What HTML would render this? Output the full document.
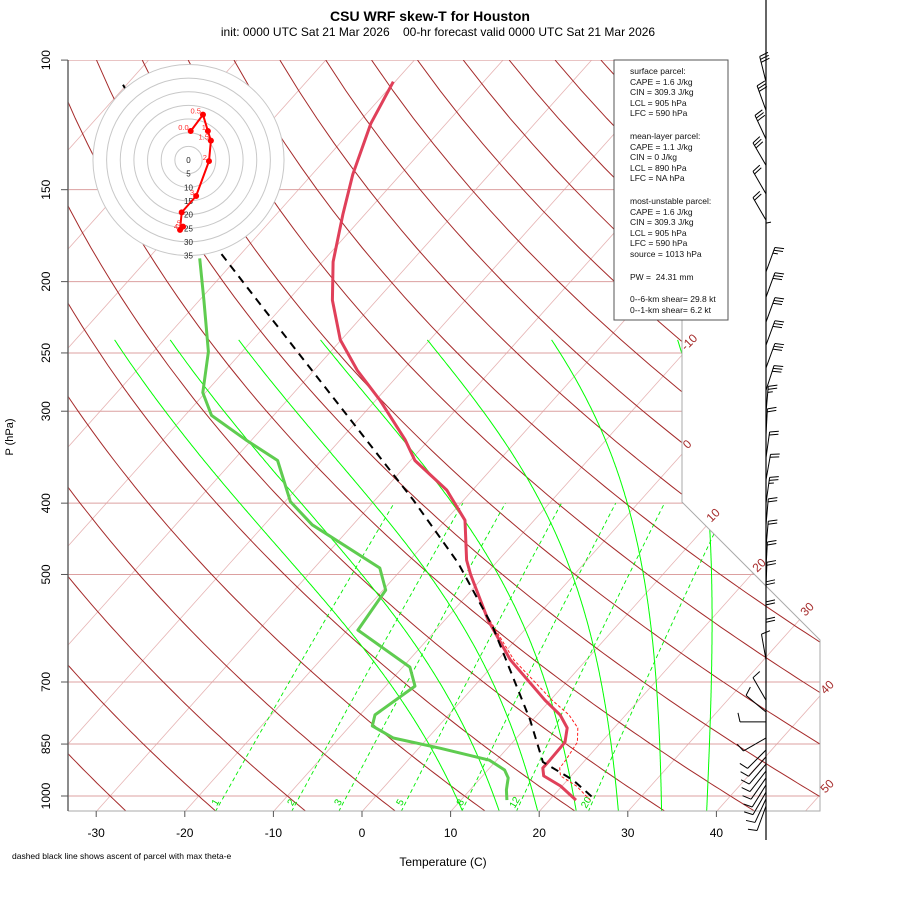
<!DOCTYPE html>
<html><head><meta charset="utf-8"><title>CSU WRF skew-T for Houston</title>
<style>
html,body{margin:0;padding:0;background:#fff;}
svg{display:block;font-family:"Liberation Sans",sans-serif;}
</style></head>
<body>
<svg id="chart" width="900" height="900" viewBox="0 0 900 900" xmlns="http://www.w3.org/2000/svg">
<defs><clipPath id="plotclip"><polygon points="68,60 682,60 682,502 820,640 820,811 68,811"/></clipPath></defs>
<text x="430" y="21" text-anchor="middle" font-size="14" font-weight="bold">CSU WRF skew-T for Houston</text>
<text x="438" y="36" text-anchor="middle" font-size="12" xml:space="preserve">init: 0000 UTC Sat 21 Mar 2026    00-hr forecast valid 0000 UTC Sat 21 Mar 2026</text>
<text transform="translate(13,437) rotate(-90)" text-anchor="middle" font-size="11">P (hPa)</text>
<text x="443" y="866" text-anchor="middle" font-size="12">Temperature (C)</text>
<text x="12" y="859" font-size="8.5">dashed black line shows ascent of parcel with max theta-e</text>
<g id="grid" clip-path="url(#plotclip)"></g>
<g id="frame"></g>
<g id="profiles" clip-path="url(#plotclip)"></g>
<g id="hodo"></g>
<g id="winds"></g>
<g>
<rect x="614" y="60" width="114" height="260" fill="#fff" stroke="#555" stroke-width="1"/>
<g font-size="8.5" fill="#111">
<text x="630" y="74">surface parcel:</text>
<text x="630" y="85">CAPE = 1.6 J/kg</text>
<text x="630" y="95">CIN = 309.3 J/kg</text>
<text x="630" y="106">LCL = 905 hPa</text>
<text x="630" y="116">LFC = 590 hPa</text>
<text x="630" y="139">mean-layer parcel:</text>
<text x="630" y="150">CAPE = 1.1 J/kg</text>
<text x="630" y="160">CIN = 0 J/kg</text>
<text x="630" y="171">LCL = 890 hPa</text>
<text x="630" y="181">LFC = NA hPa</text>
<text x="630" y="204">most-unstable parcel:</text>
<text x="630" y="215">CAPE = 1.6 J/kg</text>
<text x="630" y="225">CIN = 309.3 J/kg</text>
<text x="630" y="236">LCL = 905 hPa</text>
<text x="630" y="246">LFC = 590 hPa</text>
<text x="630" y="257">source = 1013 hPa</text>
<text x="630" y="280" xml:space="preserve">PW =  24.31 mm</text>
<text x="630" y="302">0--6-km shear= 29.8 kt</text>
<text x="630" y="313">0--1-km shear= 6.2 kt</text>
</g></g>
</svg>
<script>
// ---- data ----
const pTicks = [100,150,200,250,300,400,500,700,850,1000];
const tTicks = [-30,-20,-10,0,10,20,30,40];
const isothermLabels = ['-10','0','10','20','30','40','50'];
const mixRatios = [1,2,3,5,8,12,20];
const moistStartT = [9,13.3,17.8,22.3,27.2,32.2,37.4];
const tempP = [107,122,143,162,188,212,240,264,290,328,350,384,422,478,500,577,653,741,776,808,845,894,916,939,969,1013];
const tempT = [-70.2,-68.5,-65.4,-62.5,-58.8,-55.0,-50.1,-45.1,-39.5,-32.7,-29.5,-22.9,-17.8,-13.6,-11.7,-5.1,1.4,9.4,12.6,14.7,15.9,16.0,16.0,16.9,19.8,23.0];
const dewP = [186,212,249,283,304,328,350,398,428,490,525,595,668,709,776,803,834,861,894,922,945,981,1013];
const dewT = [-74.2,-69.5,-63.8,-60.3,-57.0,-50.7,-45.0,-39.4,-34.6,-22.6,-19.7,-18.8,-9.2,-6.7,-8.3,-7.5,-3.9,2.4,9.2,11.9,13.1,14.1,15.2];
const parcelP = [108,181,212,396,482,589,711,788,899,951,1003];
const parcelT = [-100.4,-73.0,-63.5,-25.7,-14.3,-3.9,4.9,9.7,15.4,20.6,24.5];
const virtP = [577,653,741,776,808,845,894,916,939,969,1013];
const virtT = [-4.9,1.8,10.2,13.6,15.9,17.3,17.8,17.9,18.8,21.6,24.6];
const windP = [107,117,128,139,152,165,179,194,210,227,244,262,281,301,323,347,372,400,428,459,490,522,555,591,624,653,741,769,793,834,866,885,905,925,945,966,988,1009,1032];
const windDir = [346,340,335,330,330,330,0,20,20,20,20,20,18,5,3,8,10,8,5,5,3,2,0,0,0,350,330,310,270,240,225,222,220,218,215,212,210,205,200];
const windSpd = [30,30,30,30,20,20,5,25,30,30,30,30,30,25,20,20,20,25,20,20,20,20,20,20,20,10,10,10,10,10,10,10,10,10,10,10,10,10,10];
const hodoU = [0.8,5.3,7.1,8.2,7.5,2.8,-2.5,-3.1,-2.0];
const hodoV = [10.6,16.6,10.6,7.1,-0.4,-13.2,-19.2,-25.6,-24.4];
const hodoLabels = ['0.0','0.5','1','1.5','2','3','','4','5'];
const hodoRings = [5,10,15,20,25,30,35];

// ---- axes ----
function yP(p){ return 796 - 319.6*Math.log(1000/p); }
function xT(T,p){ return 362 + 8.86*T + 0.895*(811.6 - yP(p)); }
const NS='http://www.w3.org/2000/svg';
function mk(tag, attrs, parent){ const e=document.createElementNS(NS,tag); for(const k in attrs) e.setAttribute(k,attrs[k]); parent.appendChild(e); return e; }
function pathFrom(ps, ts){ return ps.map((p,i)=>(i?'L':'M')+xT(ts[i],p).toFixed(1)+','+yP(p).toFixed(1)).join(''); }
const grid=document.getElementById('grid'), frame=document.getElementById('frame'), prof=document.getElementById('profiles');

for(let T=-160;T<=60;T+=10){
  const l=mk('line',{x1:xT(T,1050),y1:yP(1050),x2:xT(T,100),y2:yP(100),stroke:'#e6b4b4','stroke-width':0.8},grid);
  
  
}
pTicks.forEach(p=>{
  const l=mk('line',{x1:68,y1:yP(p),x2:830,y2:yP(p),stroke:'#dca0a0','stroke-width':1},grid);
  
  
});
for(let th=-40;th<=220;th+=10){
  let d=''; for(let p=1050;p>=100;p-=10){ const T=(th+273.15)*Math.pow(p/1000,0.286)-273.15; d+=(d?'L':'M')+xT(T,p).toFixed(1)+','+yP(p).toFixed(1); }
  const e=mk('path',{d:d,fill:'none',stroke:'#a52a2a','stroke-width':1},grid);
  
  
}
function esat(Tc){ return 6.112*Math.exp(17.67*Tc/(Tc+243.5)); }
mixRatios.forEach(w=>{
  let d=''; for(let p=1050;p>=400;p-=10){ const r=w/1000; const e=r*p/(0.622+r); const L=Math.log(e/6.112); const T=243.5*L/(17.67-L); d+=(d?'L':'M')+xT(T,p).toFixed(1)+','+yP(p).toFixed(1); }
  const e=mk('path',{d:d,fill:'none',stroke:'#00ee00','stroke-width':0.9,'stroke-dasharray':'4,3'},grid);
  
  
  const r=w/1000, ee=r*1000/(0.622+r), L=Math.log(ee/6.112), T0=243.5*L/(17.67-L);
  const x=xT(T0,1000)-6, y=804;
  const t=mk('text',{x:0,y:0,transform:`translate(${x.toFixed(1)},${y}) rotate(-60)`,'font-size':10,fill:'#00dd00','text-anchor':'middle'},frame);
  t.textContent=String(w);
  
  
});
function dTdp(TK,p){ const Tc=TK-273.15; const es=esat(Tc); const rs=0.75*0.622*es/(p-es); const Rd=287.04,cp=1005.7,Lv=2.5e6;
  return ((Rd*TK+Lv*rs)/p)/(cp+(Lv*Lv*rs*0.622)/(Rd*TK*TK)); }
moistStartT.forEach(T0=>{
  const pts=[]; let T=T0+273.15;
  for(let p=1000;p>=240;p-=2){ pts.push([p,T-273.15]); T-=dTdp(T,p)*2; }
  T=T0+273.15; const low=[];
  for(let p=1000;p<=1050;p+=2){ low.push([p,T-273.15]); T+=dTdp(T,p)*2; }
  const all=low.reverse().concat(pts);
  const d=all.map((q,i)=>(i?'L':'M')+xT(q[1],q[0]).toFixed(1)+','+yP(q[0]).toFixed(1)).join('');
  const e=mk('path',{d:d,fill:'none',stroke:'#00ff00','stroke-width':1},grid);
  
  
});
mk('polyline',{points:'682,60 682,502 820,640 820,811 68,811',fill:'none',stroke:'#aaa','stroke-width':1},frame);
mk('line',{x1:68,y1:60,x2:68,y2:811,stroke:'#666','stroke-width':1.5},frame);
pTicks.forEach(p=>{
  mk('line',{x1:61,y1:yP(p),x2:68,y2:yP(p),stroke:'#555'},frame);
  const t=mk('text',{transform:`translate(50,${yP(p).toFixed(1)}) rotate(-90)`,'text-anchor':'middle','font-size':12},frame);
  t.textContent=String(p);
  
  
});
tTicks.forEach(T=>{
  const x=362+8.86*T;
  mk('line',{x1:x,y1:811,x2:x,y2:817,stroke:'#555'},frame);
  const t=mk('text',{x:x,y:837,'text-anchor':'middle','font-size':12},frame);
  t.textContent=String(T);
  
  
});
const isoLabelPos=[[692,345],[690,447],[716,518],[762,568],[810,612],[830,690],[830,789]];
isothermLabels.forEach((s,i)=>{
  const t=mk('text',{transform:`translate(${isoLabelPos[i][0]},${isoLabelPos[i][1]}) rotate(-45)`,'text-anchor':'middle','font-size':12,fill:'#a52a2a'},frame);
  t.textContent=s;
  
  
});
let e;
e=mk('path',{d:pathFrom(virtP,virtT),fill:'none',stroke:'#ff2020','stroke-width':1,'stroke-dasharray':'3,2'},prof);


e=mk('path',{d:pathFrom(tempP,tempT),fill:'none',stroke:'#e0405a','stroke-width':3,'stroke-linejoin':'round'},prof);


e=mk('path',{d:pathFrom(dewP,dewT),fill:'none',stroke:'#5fcc50','stroke-width':3,'stroke-linejoin':'round'},prof);


e=mk('path',{d:pathFrom(parcelP,parcelT),fill:'none',stroke:'#000','stroke-width':2,'stroke-dasharray':'8,6'},prof);



const hodo=document.getElementById('hodo'); const hcx=188.5,hcy=160,kpx=2.73;
mk('circle',{cx:hcx,cy:hcy,r:35*kpx,fill:'#fff',stroke:'none'},hodo);
hodoRings.forEach(r=>{
  const c=mk('circle',{cx:hcx,cy:hcy,r:r*kpx,fill:'none',stroke:'#c8c8c8','stroke-width':1},hodo);
  
  
});
[0].concat(hodoRings).forEach(r=>{
  const t=mk('text',{x:hcx,y:hcy+r*kpx+3,'text-anchor':'middle','font-size':8,fill:'#222'},hodo);
  t.textContent=String(r);
  
  
});
const hx=u=>hcx+u*kpx, hy=v=>hcy-v*kpx;
e=mk('path',{d:hodoU.map((u,i)=>(i?'L':'M')+hx(u).toFixed(1)+','+hy(hodoV[i]).toFixed(1)).join(''),fill:'none',stroke:'#ff0000','stroke-width':2},hodo);


hodoU.forEach((u,i)=>{
  const c=mk('circle',{cx:hx(u),cy:hy(hodoV[i]),r:3,fill:'#ff0000'},hodo);
  
  
  if(hodoLabels[i]){
    const t=mk('text',{x:hx(u)-2,y:hy(hodoV[i])-1,'text-anchor':'end','font-size':7.5,fill:'#ff3030'},hodo);
    t.textContent=hodoLabels[i];
    
    
  }
});

const winds=document.getElementById('winds'); const bx=766;
mk('line',{x1:bx,y1:0,x2:bx,y2:840,stroke:'#000','stroke-width':1.2},winds);
windP.forEach((p,i)=>{
  const y=yP(p), d=windDir[i]*Math.PI/180, L=26;
  const vx=Math.sin(d), vy=-Math.cos(d);
  const tx=bx+L*vx, ty=y+L*vy;
  const g=mk('g',{stroke:'#000','stroke-width':1,fill:'none'},winds);
  
  
  mk('line',{x1:bx,y1:y,x2:tx,y2:ty},g);
  const fx=-vy, fy=vx;
  let s=windSpd[i], pos=0;
  while(s>=10){ const ax=tx-vx*pos, ay=ty-vy*pos; mk('line',{x1:ax,y1:ay,x2:ax+fx*9+vx*2,y2:ay+fy*9+vy*2},g); pos+=3; s-=10; }
  if(s>=5){ if(pos===0) pos=3; const ax=tx-vx*pos, ay=ty-vy*pos; mk('line',{x1:ax,y1:ay,x2:ax+fx*5+vx*1,y2:ay+fy*5+vy*1},g); }
});
</script>
</body></html>
